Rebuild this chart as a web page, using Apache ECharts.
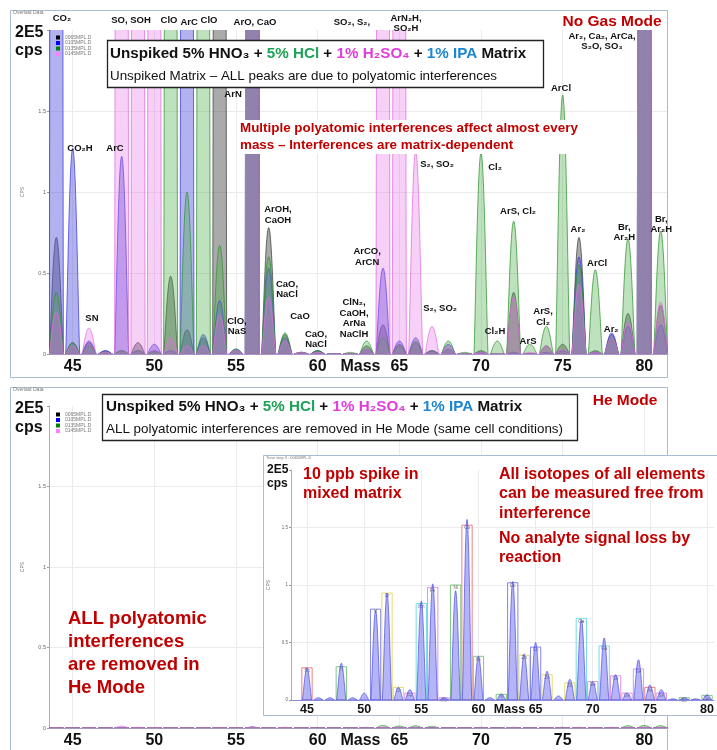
<!DOCTYPE html>
<html>
<head>
<meta charset="utf-8">
<script src="https://cdn.jsdelivr.net/npm/echarts@6/dist/echarts.min.js"></script>
<style>
  html, body { margin: 0; padding: 0; background: #fff; }
  #chart { width: 717px; height: 750px; }
</style>
</head>
<body>
<div id="chart"></div>
<script>
// ---- Data (peak heights in units of 1E5 cps) ----
const masses = [44,45,46,47,48,49,50,51,52,53,54,55,56,57,58,59,60,61,62,63,64,65,66,67,68,69,70,71,72,73,74,75,76,77,78,79,80,81];
const sampleNames = ['0065MPL.D', '0105MPL.D', '0135MPL.D', '0145MPL.D'];

// No Gas mode, unspiked matrix (values far above 2 are off-scale peaks)
const noGas0065 = [0.72,0.07,0.07,0.02,0.02,0.07,0.02,0.48,0.15,0.10,25,0.02,60,0.78,0.12,0.01,0.02,0,0,0.05,0.18,0.06,0.07,0.02,0.03,0,0.02,0,0.38,0,0.05,0.06,0.72,0.02,0.12,0.25,40,0.30];
const noGas0105 = [30,1.27,0.08,0.02,1.22,0.02,0.06,0.02,22,0.12,0.33,0.03,60,0.53,0.10,0.01,0.02,0,0,0.03,0.53,0.08,0.10,0.02,0.06,0,0.01,0,0.01,0,0.01,0.02,0.60,0.01,0.13,0.17,40,0.18];
const noGas0135 = [0.38,0.07,0.05,0.01,0.02,0.02,0.01,20,1.00,18,0.67,0.03,60,0.60,0.13,0.01,0.02,0,0.01,0.08,0.10,0.05,0.08,0.02,0.08,0.01,1.24,0.08,0.82,0.06,0.17,1.60,0.55,0.52,0.10,0.71,40,0.76];
const noGas0145 = [0.26,0.05,0.16,0.01,35,28,24,0.10,0.05,0.05,0.24,0.02,60,0.35,0.08,0.01,0.01,0,0,0.03,26,22,1.25,0.17,0.05,0,0.01,0,0.35,0.01,0.05,0.03,0.43,0.01,0.10,0.20,40,0.32];

// He mode, same unspiked matrix
const he0065 = [0.002,0.002,0.002,0.001,0.002,0.002,0.002,0.002,0.002,0.002,0.003,0.001,0.006,0.002,0.004,0.001,0.001,0,0,0.001,0.002,0.001,0.002,0.001,0.001,0,0.001,0,0.002,0,0.001,0.001,0.003,0.001,0.002,0.002,0.004,0.002];
const he0105 = [0.003,0.002,0.001,0.001,0.002,0.001,0.001,0.001,0.002,0.001,0.002,0.001,0.004,0.002,0.003,0.001,0.001,0,0,0.001,0.002,0.001,0.002,0.001,0.001,0,0.001,0,0.001,0,0.001,0.001,0.002,0.001,0.002,0.002,0.003,0.002];
const he0135 = [0.002,0.001,0.001,0.001,0.002,0.001,0.001,0.003,0.002,0.002,0.002,0.001,0.004,0.002,0.003,0.001,0.001,0,0.001,0.004,0.016,0.012,0.014,0.010,0.003,0.001,0.004,0.002,0.004,0.002,0.003,0.004,0.004,0.003,0.004,0.014,0.016,0.014];
const he0145 = [0.002,0.001,0.002,0.001,0.012,0.004,0.002,0.001,0.001,0.001,0.002,0.001,0.004,0.002,0.003,0.001,0.001,0,0,0.001,0.004,0.002,0.002,0.001,0.001,0,0.001,0,0.002,0,0.001,0.001,0.002,0.001,0.002,0.002,0.003,0.002];

// He mode, 10 ppb spike in the mixed matrix
const spikeMasses = [45,46,47,48,49,50,51,52,53,54,55,56,57,58,59,60,61,62,63,64,65,66,67,68,69,70,71,72,73,74,75,76,77,78,79,80];
const spikeCps = [0.28,0.02,0.02,0.32,0.02,0.06,0.78,0.93,0.11,0.09,0.86,1.01,0.02,0.95,1.57,0.38,0.02,0.05,1.03,0.40,0.50,0.25,0.035,0.18,0.70,0.16,0.54,0.22,0.06,0.35,0.13,0.09,0.01,0.02,0.01,0.045];

// Isotope integration windows: [mass, window top, element, colour key]
const isotopeWindows = [
  [45,0.28,'Sc','red'],[48,0.29,'Ti','green'],[51,0.79,'V','blue'],[52,0.93,'Cr','yellow'],
  [53,0.11,'Cr','yellow'],[54,0.06,'Fe','pink'],[55,0.84,'Mn','cyan'],[56,0.98,'Fe','pink'],
  [57,0.02,'Fe','pink'],[58,1.00,'Ni','green'],[59,1.52,'Co','red'],[60,0.38,'Ni','green'],
  [62,0.05,'Ni','green'],[63,1.02,'Cu','blue'],[64,0.39,'Zn','yellow'],[65,0.46,'Cu','blue'],
  [66,0.22,'Zn','yellow'],[68,0.15,'Zn','yellow'],[69,0.71,'Ga','cyan'],[70,0.16,'Ge','pink'],
  [71,0.47,'Ga','cyan'],[72,0.21,'Ge','pink'],[73,0.06,'Ge','pink'],[74,0.27,'Ge','pink'],
  [75,0.11,'As','red'],[76,0.06,'Se','pink'],[78,0.02,'Se','green'],[80,0.04,'Se','green']
];

// Polyatomic interference labels: text and its anchor [mass, level]
const interferenceLabels = [
  ['CO₂', 44.34, 2.07], ['SO, SOH', 48.57, 2.06], ['ClO', 50.90, 2.06], ['ArC', 52.13, 2.05],
  ['ClO', 53.35, 2.06], ['ArO, CaO', 56.16, 2.05], ['SO₂, S₂,', 62.10, 2.05],
  ['ArN₂H,\nSO₂H', 65.41, 2.04], ['Ar₂, Ca₂, ArCa,\nS₂O, SO₃', 77.41, 1.93],
  ['CO₂H', 45.45, 1.27], ['ArC', 47.59, 1.27], ['ArN', 54.82, 1.60], ['SN', 46.18, 0.22],
  ['ClO,\nNaS', 55.06, 0.17], ['ArOH,\nCaOH', 57.57, 0.86], ['CaO,\nNaCl', 58.12, 0.40],
  ['CaO', 58.92, 0.23], ['CaO,\nNaCl', 59.90, 0.09], ['ClN₂,\nCaOH,\nArNa\nNaClH', 62.23, 0.22],
  ['ArCO,\nArCN', 63.03, 0.60], ['S₂, SO₂', 67.31, 1.17], ['S₂, SO₂', 67.50, 0.28],
  ['Cl₂', 70.86, 1.15], ['ArS, Cl₂', 72.27, 0.88], ['Cl₂H', 70.86, 0.14], ['ArS', 72.88, 0.08],
  ['ArS,\nCl₂', 73.80, 0.23], ['ArCl', 74.90, 1.64], ['Ar₂', 75.94, 0.77], ['ArCl', 77.11, 0.56],
  ['Ar₂', 77.97, 0.15], ['Br,\nAr₂H', 78.77, 0.75], ['Br,\nAr₂H', 81.04, 0.80]
];

const massTicks = [45, 50, 55, 60, 65, 70, 75, 80];
const cpsTicks = [0, 0.5, 1, 1.5];

// ---- Styling ----
const FONT = '"Liberation Sans", Arial, sans-serif';
const sampleStyles = [
  { legend: '#000000', fill: 'rgba(85,85,85,0.5)',   stroke: 'rgba(60,60,60,0.8)' },
  { legend: '#0000ff', fill: 'rgba(85,85,222,0.45)', stroke: 'rgba(60,60,225,0.85)' },
  { legend: '#008000', fill: 'rgba(70,170,70,0.35)', stroke: 'rgba(50,150,50,0.85)' },
  { legend: '#ff7fff', fill: 'rgba(230,100,230,0.3)', stroke: 'rgba(225,110,225,0.85)' }
];
const windowColours = { red: '#ef8080', green: '#80c880', blue: '#8585e8', yellow: '#e6dc6e', cyan: '#72dce6', pink: '#df95df' };
const RED = '#c00000';

// Peak profile drawn around each integer mass through the axis scales
function peakRenderer(fill, stroke, halfW, power, lw) {
  return function (params, api) {
    const m = api.value(0), h = api.value(1);
    const steps = 22;
    const pts = [api.coord([m - halfW, 0])];
    for (let i = -steps; i <= steps; i++) {
      const t = (i / steps) * halfW;
      const u = 1 - (t / halfW) * (t / halfW);
      pts.push(api.coord([m + t, h * Math.pow(u, power)]));
    }
    pts.push(api.coord([m + halfW, 0]));
    return { type: 'polygon', shape: { points: pts }, style: { fill: fill, stroke: stroke, lineWidth: lw } };
  };
}

function massAxis(gridIndex, min, max, fontSize, z, lineColor, namePad) {
  return {
    type: 'value', gridIndex: gridIndex, min: min, max: max, z: z, splitNumber: 8,
    axisLine: { show: true, onZero: false, lineStyle: { color: lineColor, width: 1.2 } },
    axisTick: { show: false, customValues: massTicks },
    axisLabel: { customValues: massTicks, fontSize: fontSize, fontWeight: 'bold', color: '#111', margin: fontSize > 14 ? 5 : 3, fontFamily: FONT },
    splitLine: { show: true, lineStyle: { color: '#ebebeb', width: 1 } },
    name: 'Mass', nameLocation: 'middle', nameGap: fontSize > 14 ? 5 : 3, nameMoveOverlap: false,
    nameTextStyle: { fontSize: fontSize, fontWeight: 'bold', color: '#111', fontFamily: FONT, verticalAlign: 'top',
      padding: [0, 0, 0, namePad] }
  };
}

function cpsAxis(gridIndex, z, fontSize) {
  return {
    type: 'value', gridIndex: gridIndex, min: 0, max: 2, interval: 0.5, z: z,
    axisLine: { show: true, lineStyle: { color: '#b0b0b0', width: 1 } },
    axisTick: { show: true, length: 2, lineStyle: { color: '#999' } },
    axisLabel: { fontSize: fontSize, color: '#666', margin: 3, fontFamily: FONT,
      formatter: v => (cpsTicks.indexOf(v) >= 0 ? String(v) : '') },
    splitLine: { show: true, lineStyle: { color: ['#ebebeb', '#ebebeb', '#ebebeb', '#ebebeb', 'rgba(0,0,0,0)'] } },
    name: 'CPS', nameLocation: 'middle', nameRotate: 90, nameGap: gridIndex === 2 ? 14 : 24,
    nameTextStyle: { fontSize: 5, color: '#777', fontFamily: FONT }
  };
}

const noGasSets = [noGas0065, noGas0105, noGas0135, noGas0145];
const heSets = [he0065, he0105, he0135, he0145];

const series = [];
// Top panel: No Gas mode spectra
noGasSets.forEach((arr, k) => {
  series.push({
    type: 'custom', name: sampleNames[k], xAxisIndex: 0, yAxisIndex: 0, clip: true, z: 2,
    itemStyle: { color: sampleStyles[k].legend },
    renderItem: peakRenderer(sampleStyles[k].fill, sampleStyles[k].stroke, 0.43, 1.3, 0.9),
    data: masses.map((m, i) => [m, arr[i]])
  });
});
// Interference annotations
series.push({
  type: 'custom', name: 'labels', xAxisIndex: 0, yAxisIndex: 0, clip: false, z: 6, silent: true,
  renderItem: function (params, api) {
    const lab = interferenceLabels[params.dataIndex];
    const p = api.coord([lab[1], lab[2]]);
    return { type: 'text', x: p[0], y: p[1], style: { text: lab[0], fill: '#111', font: 'bold 9.5px ' + FONT,
      textAlign: 'center', textVerticalAlign: 'middle', align: 'center', verticalAlign: 'middle', lineHeight: 10.5 } };
  },
  data: interferenceLabels.map(l => [l[1], l[2]])
});
// Bottom panel: He mode spectra
heSets.forEach((arr, k) => {
  series.push({
    type: 'custom', name: sampleNames[k], xAxisIndex: 1, yAxisIndex: 1, clip: true, z: 2,
    itemStyle: { color: sampleStyles[k].legend },
    renderItem: peakRenderer(sampleStyles[k].fill, sampleStyles[k].stroke, 0.43, 1.3, 0.9),
    data: masses.map((m, i) => [m, arr[i]])
  });
});
// Inset: isotope windows
series.push({
  type: 'custom', name: 'windows', xAxisIndex: 2, yAxisIndex: 2, clip: false, z: 4, silent: true,
  renderItem: function (params, api) {
    const w = isotopeWindows[params.dataIndex];
    const a = api.coord([w[0] - 0.45, w[1]]);
    const b = api.coord([w[0] + 0.45, 0]);
    return { type: 'group', children: [
      { type: 'rect', shape: { x: a[0], y: a[1], width: b[0] - a[0], height: b[1] - a[1] },
        style: { fill: 'none', stroke: windowColours[w[3]], lineWidth: 1 } },
      { type: 'text', x: (a[0] + b[0]) / 2, y: a[1] + 3, style: { text: w[2], fill: '#666', font: '4.5px ' + FONT,
        textAlign: 'center', textVerticalAlign: 'middle', align: 'center', verticalAlign: 'middle' } }
    ] };
  },
  data: isotopeWindows.map(w => [w[0], w[1]])
});
// Inset: spike spectrum
series.push({
  type: 'custom', name: 'spike', xAxisIndex: 2, yAxisIndex: 2, clip: true, z: 4, silent: true,
  renderItem: peakRenderer('rgba(105,105,238,0.5)', 'rgba(70,70,225,0.85)', 0.42, 1.6, 0.8),
  data: spikeMasses.map((m, i) => [m, spikeCps[i]])
});

const titleRich = size => ({
  k: { fill: '#111', font: 'bold ' + size + 'px ' + FONT },
  g: { fill: '#1fa257', font: 'bold ' + size + 'px ' + FONT },
  m: { fill: '#e23cdc', font: 'bold ' + size + 'px ' + FONT },
  b: { fill: '#1c86cf', font: 'bold ' + size + 'px ' + FONT }
});
const titleText = '{k|Unspiked 5% HNO₃ + }{g|5% HCl}{k| + }{m|1% H₂SO₄}{k| + }{b|1% IPA}{k| Matrix}';

function txt(x, y, text, font, fill, z, extra) {
  return Object.assign({ type: 'text', x: x, y: y, z: z || 10,
    style: Object.assign({ text: text, font: font, fill: fill, textAlign: 'left', textVerticalAlign: 'middle', align: 'left', verticalAlign: 'middle' }, extra || {}) });
}

const graphics = [
  // panel frames
  { type: 'rect', z: 1, shape: { x: 10.5, y: 10.5, width: 657, height: 367 }, style: { fill: 'none', stroke: '#a9bdd2', lineWidth: 1 } },
  { type: 'rect', z: 1, shape: { x: 10.5, y: 387.5, width: 657, height: 370 }, style: { fill: 'none', stroke: '#a9bdd2', lineWidth: 1 } },
  txt(13, 13, 'Overlaid Data', '5px ' + FONT, '#777', 10),
  txt(13, 390, 'Overlaid Data', '5px ' + FONT, '#777', 10),
  // top panel headers
  txt(15, 33, '2E5', 'bold 16px ' + FONT, '#111', 10),
  txt(15, 51, 'cps', 'bold 16px ' + FONT, '#111', 10),
  txt(612, 22, 'No Gas Mode', 'bold 15.5px ' + FONT, RED, 10, { textAlign: 'center', align: 'center' }),
  { type: 'rect', z: 10, shape: { x: 107.5, y: 40.5, width: 436, height: 47 }, style: { fill: '#fff', stroke: '#222', lineWidth: 1.3 } },
  txt(110, 54, titleText, 'bold 15.2px ' + FONT, '#111', 11, { rich: titleRich(15.2) }),
  txt(110, 76, 'Unspiked Matrix – ALL peaks are due to polyatomic interferences', '13.4px ' + FONT, '#111', 11),
  txt(238, 137, 'Multiple polyatomic interferences affect almost every\nmass – Interferences are matrix-dependent', 'bold 13.4px ' + FONT, RED, 11,
    { lineHeight: 17, backgroundColor: '#fff', padding: [0, 2, 0, 2] }),
  // bottom panel headers
  txt(15, 409, '2E5', 'bold 16px ' + FONT, '#111', 10),
  txt(15, 428, 'cps', 'bold 16px ' + FONT, '#111', 10),
  txt(625, 401, 'He Mode', 'bold 15.5px ' + FONT, RED, 10, { textAlign: 'center', align: 'center' }),
  { type: 'rect', z: 10, shape: { x: 102.5, y: 394.5, width: 475, height: 46 }, style: { fill: '#fff', stroke: '#222', lineWidth: 1.3 } },
  txt(106, 407, titleText, 'bold 15.2px ' + FONT, '#111', 11, { rich: titleRich(15.2) }),
  txt(106, 429, 'ALL polyatomic interferences are removed in He Mode (same cell conditions)', '13.4px ' + FONT, '#111', 11),
  txt(68, 653, 'ALL polyatomic\ninterferences\nare removed in\nHe Mode', 'bold 18.5px ' + FONT, RED, 10, { lineHeight: 23 }),
  // inset
  { type: 'rect', z: 3, shape: { x: 263.5, y: 455.5, width: 470, height: 260 }, style: { fill: '#fff', stroke: '#a9bdd2', lineWidth: 1 } },
  txt(266, 458, 'Tune step 3 : 0065MPL.D', '4px ' + FONT, '#777', 10),
  txt(267, 470, '2E5', 'bold 12px ' + FONT, '#111', 10),
  txt(267, 484, 'cps', 'bold 12px ' + FONT, '#111', 10),
  txt(303, 484, '10 ppb spike in\nmixed matrix', 'bold 16px ' + FONT, RED, 10, { lineHeight: 19 }),
  txt(499, 494, 'All isotopes of all elements\ncan be measured free from\ninterference', 'bold 16px ' + FONT, RED, 10, { lineHeight: 19.5 }),
  txt(499, 548, 'No analyte signal loss by\nreaction', 'bold 16px ' + FONT, RED, 10, { lineHeight: 19.5 })
];

const legendBase = {
  orient: 'vertical', left: 51, itemWidth: 4, itemHeight: 4, itemGap: 0.5, icon: 'rect', selectedMode: false,
  textStyle: { fontSize: 5, color: '#777', fontFamily: FONT }, data: sampleNames, z: 10
};

const option = {
  animation: false,
  backgroundColor: '#fff',
  textStyle: { fontFamily: FONT },
  grid: [
    { left: 49, top: 30, width: 619, height: 324 },
    { left: 49, top: 406, width: 619, height: 327 },
    { left: 291, top: 470, width: 426, height: 230 }
  ],
  xAxis: [
    massAxis(0, 43.55, 81.45, 16, 0, '#a596c6', 4),
    massAxis(1, 43.55, 81.45, 16, 0, '#a596c6', 4),
    massAxis(2, 43.6, 80.6, 12.5, 4, '#8c8cd8', 14)
  ],
  yAxis: [cpsAxis(0, 0, 5.5), cpsAxis(1, 0, 5.5), cpsAxis(2, 4, 4.5)],
  legend: [
    Object.assign({}, legendBase, { top: 30 }),
    Object.assign({}, legendBase, { top: 407 })
  ],
  series: series,
  graphic: { elements: graphics }
};

const chart = echarts.init(document.getElementById('chart'), null, { renderer: 'canvas' });
chart.setOption(option);
</script>
</body>
</html>
